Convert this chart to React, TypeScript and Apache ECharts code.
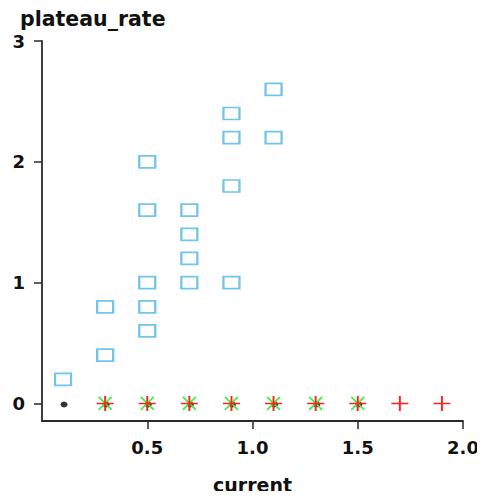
import React, { useEffect, useRef } from "react";
import * as echarts from "echarts";

const squareX = [0.1, 0.3, 0.3, 0.5, 0.5, 0.5, 0.5, 0.5, 0.7, 0.7, 0.7, 0.7, 0.9, 0.9, 0.9, 0.9, 1.1, 1.1];
const squareY = [0.2, 0.4, 0.8, 0.6, 0.8, 1.0, 1.6, 2.0, 1.0, 1.2, 1.4, 1.6, 1.0, 1.8, 2.2, 2.4, 2.2, 2.6];
const dotX = [0.1, 0.3, 0.5, 0.7, 0.9, 1.1, 1.3, 1.5];
const crossX = [0.3, 0.5, 0.7, 0.9, 1.1, 1.3, 1.5];
const plusX = [0.3, 0.5, 0.7, 0.9, 1.1, 1.3, 1.5, 1.7, 1.9];
const zeroY = 0;
const xTicks = [0.5, 1.0, 1.5, 2.0];
const yTicks = [0, 1, 2, 3];

const FONT = "DejaVu Sans";

export default function App() {
  const ref = useRef<HTMLDivElement>(null);
  useEffect(() => {
    const chart = echarts.init(ref.current!, null, { renderer: "svg" });
    const axisLine = { show: true, onZero: false, lineStyle: { color: "#2a2a2a", width: 1.8 } };
    chart.setOption({
      animation: false,
      title: {
        text: "plateau_rate",
        left: 15,
        top: 3,
        textStyle: { fontFamily: FONT, fontWeight: "bold", fontSize: 20.5, color: "#111" },
      },
      grid: { left: 42, right: 22, top: 41, bottom: 77 },
      xAxis: {
        type: "value",
        min: 0,
        max: 2,
        name: "current",
        nameLocation: "middle",
        nameGap: 54,
        nameTextStyle: { fontFamily: FONT, fontWeight: "bold", fontSize: 19, color: "#111" },
        axisLine,
        axisTick: { show: true, length: 8, customValues: xTicks, lineStyle: { color: "#2a2a2a", width: 1.5 } },
        axisLabel: {
          customValues: xTicks,
          margin: 17,
          formatter: (v: number) => v.toFixed(1),
          fontFamily: FONT,
          fontWeight: "bold",
          fontSize: 18,
          color: "#111",
        },
        splitLine: { show: false },
      },
      yAxis: {
        type: "value",
        min: -0.145,
        max: 3,
        axisLine,
        axisTick: { show: true, length: 8, customValues: yTicks, lineStyle: { color: "#2a2a2a", width: 1.5 } },
        axisLabel: {
          customValues: yTicks,
          margin: 17,
          formatter: (v: number) => String(v),
          fontFamily: FONT,
          fontWeight: "bold",
          fontSize: 18,
          color: "#111",
        },
        splitLine: { show: false },
      },
      series: [
        {
          type: "scatter",
          data: squareX.map((x, i) => [x, squareY[i]]),
          symbol: "rect",
          symbolSize: [16, 12],
          itemStyle: { color: "rgba(0,0,0,0)", borderColor: "#74c4ea", borderWidth: 2, opacity: 1 },
        },
        {
          type: "scatter",
          data: dotX.map((x) => [x, zeroY]),
          symbol: "circle",
          symbolSize: [7, 6],
          symbolOffset: [1, 1],
          itemStyle: { color: "#000" },
        },
        {
          type: "scatter",
          data: crossX.map((x) => [x, zeroY]),
          symbol: "path://M0,0L10,10M10,0L0,10",
          symbolSize: 13,
          itemStyle: { color: "rgba(0,0,0,0)", borderColor: "#44ee44", borderWidth: 1.8, opacity: 1 },
        },
        {
          type: "scatter",
          data: plusX.map((x) => [x, zeroY]),
          symbol: "path://M5,0L5,10M0,5L10,5",
          symbolSize: [17, 15],
          itemStyle: { color: "rgba(0,0,0,0)", borderColor: "#ff2020", borderWidth: 1.8, opacity: 1 },
        },
      ],
    });
    return () => chart.dispose();
  }, []);
  return <div ref={ref} style={{ width: 485, height: 499, margin: -8 }} />;
}
